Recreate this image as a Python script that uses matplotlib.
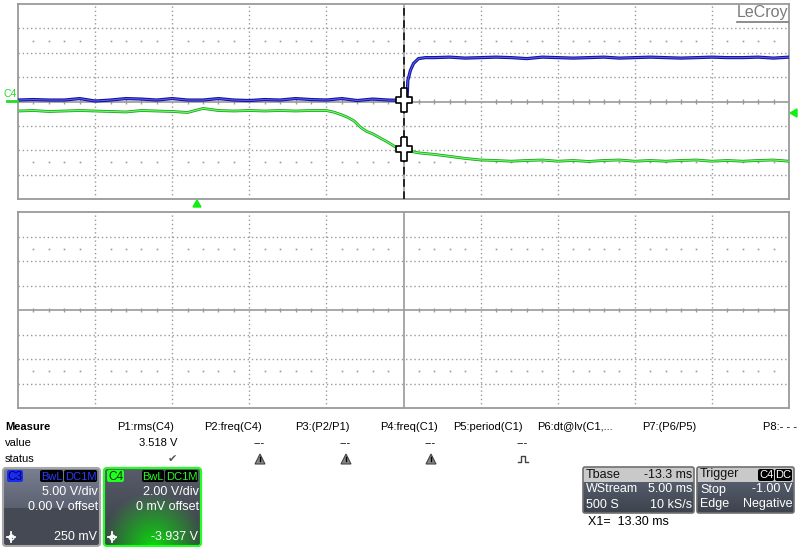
"""LeCroy scope screen: C3 (blue) step and C4 (green) fall around cursor X1."""

import numpy as np
import matplotlib
matplotlib.use('Agg')
import matplotlib.pyplot as plt
from matplotlib.patches import Rectangle, FancyBboxPatch, Polygon
from matplotlib.path import Path

W, H = 800, 547
plt.rcParams['font.family'] = ['Liberation Sans', 'DejaVu Sans']

# ---- values (time in ms relative to cursor X1, volts) ----
C3_VDIV = 5.0
C4_VDIV = 2.0

c3_t = list(range(-25, 0)) + [0, 0.23, 0.28, 0.45, 0.65, 0.97, 1.43] + list(range(2, 26))
c3_v = [0.3, 0.4, 0.3, 0.3, 0.6, 0.1, 0.3, 0.6, 0.5, 0.3, 0.6, 0.3, 0.3, 0.6, 0.3,
        0.2, 0.4, 0.3, 0.6, 0.4, 0.3, 0.6, 0.2, 0.5, 0.3,
        0.25, 0.3, 4.3, 6.4, 7.8, 8.8, 9.0,
        9.0, 9.1, 8.9, 9.0, 9.1, 9.0, 8.8, 9.1, 9.0, 8.9, 9.0, 9.1,
        8.9, 9.0, 9.1, 9.0, 8.9, 9.0, 9.1, 9.0, 9.0, 9.1, 8.9, 9.1]

c4_t = list(range(-25, -5)) + [-5.0, -4.5, -4.0, -3.6, -3.2, -2.8, -2.4, -2.0, -1.5, -1.0, -0.5, 0,
                               0.5, 1, 2, 3, 4, 5] + list(range(6, 26))
c4_v = [-0.78, -0.74, -0.82, -0.78, -0.74, -0.78, -0.82, -0.86, -0.74, -0.78,
        -0.82, -0.9, -0.57, -0.74, -0.78, -0.74, -0.78, -0.74, -0.78, -0.74,
        -0.74, -0.88, -1.1, -1.31, -1.6, -2.1, -2.45, -2.65, -3.0, -3.35, -3.75, -3.937,
        -4.1, -4.22, -4.34, -4.5, -4.67, -4.8,
        -4.84, -4.9, -4.84, -4.8, -4.9, -4.84, -4.92, -4.84, -4.8, -4.9,
        -4.84, -4.9, -4.84, -4.8, -4.9, -4.84, -4.9, -4.84, -4.8, -4.9]

cursor_t = 0.0
cursor_c3 = 0.25
cursor_c4 = -3.937

meas_names = ['P1:rms(C4)', 'P2:freq(C4)', 'P3:(P2/P1)', 'P4:freq(C1)',
              'P5:period(C1)', 'P6:dt@lv(C1,...', 'P7:(P6/P5)', 'P8:- - -']
meas_values = ['3.518 V', '---', '---', '---', '---', '', '', '']
meas_status = ['ok', 'warn', 'warn', 'warn', 'pulse', '', '', '']

GRID = '#9a9a9a'


def fig_axes(fig, x0, y0, x1, y1):
    return fig.add_axes([x0 / W, 1 - y1 / H, (x1 - x0) / W, (y1 - y0) / H])


def draw_grid(ax):
    ax.set_xlim(-25, 25)
    ax.set_ylim(-4, 4)
    ax.set_xticks([]); ax.set_yticks([])
    for sp in ax.spines.values():
        sp.set_color(GRID); sp.set_linewidth(1.3)
    for x in range(-20, 25, 5):
        if x == 0:
            ax.axvline(x, color=GRID, lw=1.2, zorder=1)
        else:
            ax.axvline(x, color=GRID, lw=1, ls=(0, (1, 2)), zorder=1)
    for y in range(-3, 4):
        if y == 0:
            ax.axhline(y, color=GRID, lw=1.2, zorder=1)
        else:
            ax.axhline(y, color=GRID, lw=1, ls=(0, (1, 2)), zorder=1)
    minor = [t for t in range(-24, 25) if t % 5]
    ax.vlines(minor, -0.09, 0.09, color=GRID, lw=1, zorder=1)
    for yy in (2.5, -2.5):
        ax.plot(minor, [yy] * len(minor), ls='none', marker='s', ms=1.2,
                mew=0, color=GRID, zorder=1)


fig = plt.figure(figsize=(W / 100, H / 100), dpi=100)

# upper grid with traces
ax = fig_axes(fig, 18, 4, 789, 199)
draw_grid(ax)
c3_div = np.array(c3_v) / C3_VDIV
c4_div = np.array(c4_v) / C4_VDIV
ax.plot(c3_t, c3_div, color='#121296', lw=2.3, zorder=3)
ax.plot(c3_t, c3_div, color='#5a5aff', lw=0.8, zorder=3)
ax.plot(c4_t, c4_div, color='#1c9a1c', lw=2.0, zorder=3)
ax.plot(c4_t, c4_div, color='#66ff66', lw=0.9, zorder=3)
ax.axvline(cursor_t, color='black', lw=1.1, ls=(0, (5, 3)), zorder=4)

cross = Path([(-2.7, 12), (2.7, 12), (2.7, 3), (8, 3), (8, -3), (2.7, -3), (2.7, -12),
              (-2.7, -12), (-2.7, -3), (-8, -3), (-8, 3), (-2.7, 3), (-2.7, 12)])
ax.plot([cursor_t, cursor_t], [cursor_c3 / C3_VDIV, cursor_c4 / C4_VDIV], ls='none',
        marker=cross, ms=17.3, mfc='white', mec='black', mew=1.2, zorder=5)

# lower (empty) grid
ax2 = fig_axes(fig, 18, 212, 789, 408)
draw_grid(ax2)

# overlay for the instrument UI
ov = fig.add_axes([0, 0, 1, 1])
ov.set_zorder(5)
ov.patch.set_alpha(0)
ov.axis('off')


def T(x, y, s, ha='left', size=8, color='black', **kw):
    ov.text(x, y, s, ha=ha, va='center', fontsize=size, color=color, **kw)


# LeCroy logo
T(788, 13, 'LeCroy', ha='right', size=11.5, color='#7a7a7a')
ov.plot([737, 788], [21.5, 21.5], color='#7a7a7a', lw=1.2)

# channel marker, trigger markers
T(4, 94, 'C4', size=7.5, color='#22dd22')
ov.plot([7, 17], [101, 101], color='#22dd22', lw=2)
ov.add_patch(Polygon([(193, 207), (201, 207), (197, 200)], color='#11ee11'))
ov.add_patch(Polygon([(797, 109), (797, 117), (790, 113)], color='#11ee11'))

# measurement table
T(5, 427, 'Measure', weight='bold')
T(5, 443, 'value')
T(5, 459, 'status')
name_x = [117, 204, 295, 380, 453, 537, 642, 763]
right_x = [178, 266, 352, 437, 529, 617, 705, 795]
for nx, rx, name, val, st in zip(name_x, right_x, meas_names, meas_values, meas_status):
    T(nx, 427, name)
    if val:
        T(rx - 1, 443, val, ha='right')
    ix = rx - 6
    if st == 'ok':
        T(ix, 459, '\u2714', ha='center', size=8, color='#555555')
    elif st == 'warn':
        ov.add_patch(Polygon([(ix - 5, 464), (ix + 5, 464), (ix, 454)],
                             fc='#888888', ec='#444444', lw=0.8))
        ov.plot([ix, ix], [457, 461], color='black', lw=1)
    elif st == 'pulse':
        ov.plot([ix - 5, ix - 2, ix - 2, ix + 2, ix + 2, ix + 5],
                [462, 462, 456, 456, 462, 462], color='#444444', lw=1)


def grad_img(x0, y0, x1, y1, top, bottom, glow=None):
    n = 60
    t = np.linspace(0, 1, n)[:, None, None]
    img = np.array(top)[None, None, :] * (1 - t) + np.array(bottom)[None, None, :] * t
    img = np.repeat(img, 40, axis=1)
    if glow is not None:
        yy, xx = np.mgrid[0:n, 0:40]
        r = np.sqrt(((xx - 20) / 22.0) ** 2 + ((yy - n) / (n * 0.7)) ** 2)
        w = np.clip(1 - r, 0, 1)[:, :, None]
        img = img * (1 - w) + np.array(glow)[None, None, :] * w
    ov.imshow(img, extent=(x0, x1, y1, y0), aspect='auto', zorder=1,
              interpolation='bilinear')


def badge(x0, x1, y0, y1, fc, text, tc, size=8):
    ov.add_patch(FancyBboxPatch((x0, y0), x1 - x0, y1 - y0,
                                boxstyle='round,pad=0,rounding_size=2', fc=fc, ec='none', zorder=3))
    T((x0 + x1) / 2, (y0 + y1) / 2 + 0.5, text, ha='center', size=size, color=tc, zorder=4)


def crosshair(x, y):
    ov.plot([x - 4, x + 4], [y, y], color='white', lw=1.3, zorder=4)
    ov.plot([x, x], [y - 5, y + 5], color='white', lw=1.3, zorder=4)
    ov.plot([x], [y], marker='o', ms=3.5, mfc='none', mec='white', mew=1, zorder=4)


# C3 box
grad_img(3, 468, 100, 508, (0.47, 0.5, 0.57), (0.36, 0.38, 0.44))
grad_img(3, 508, 100, 546, (0.27, 0.29, 0.33), (0.27, 0.29, 0.33))
ov.add_patch(FancyBboxPatch((3, 468), 97, 78, boxstyle='round,pad=0,rounding_size=3',
                            fc='none', ec='#a8a8a8', lw=1.5, zorder=3))
badge(7, 23, 470, 482, '#1a2cf0', 'C3', '#000060', size=8.5)
badge(40, 63, 470, 482, 'black', 'BwL', '#2a3cff')
badge(64, 97, 470, 482, 'black', 'DC1M', '#2a3cff')
T(98, 492, '5.00 V/div', ha='right', size=9, color='white', zorder=4)
T(98, 507, '0.00 V offset', ha='right', size=9, color='white', zorder=4)
T(97, 537, '250 mV', ha='right', size=9, color='white', zorder=4)
crosshair(11, 537)

# C4 box
grad_img(104, 468, 201, 546, (0.34, 0.36, 0.41), (0.22, 0.24, 0.27), glow=(0.05, 0.85, 0.05))
ov.add_patch(FancyBboxPatch((104, 468), 97, 78, boxstyle='round,pad=0,rounding_size=3',
                            fc='none', ec='#22ff22', lw=1.6, zorder=3))
badge(107, 124, 470, 482, '#22ff22', 'C4', '#003300', size=8.5)
badge(142, 164, 470, 482, 'black', 'BwL', '#22ff22')
badge(165, 198, 470, 482, 'black', 'DC1M', '#22ff22')
T(199, 492, '2.00 V/div', ha='right', size=9, color='white', zorder=4)
T(199, 507, '0 mV offset', ha='right', size=9, color='white', zorder=4)
T(198, 537, '-3.937 V', ha='right', size=9, color='white', zorder=4)
crosshair(112, 537)

# timebase / trigger boxes
for x0, x1, rows in [(583, 694, [('Tbase', '-13.3 ms'), ('WStream', '5.00 ms'), ('500 S', '10 kS/s')]),
                     (697, 794, [('Trigger', ''), ('Stop', '-1.00 V'), ('Edge', 'Negative')])]:
    ov.add_patch(Rectangle((x0, 467), x1 - x0, 15, fc='#c9c9c9', ec='none', zorder=1))
    grad_img(x0, 482, x1, 513, (0.33, 0.36, 0.42), (0.24, 0.26, 0.3))
    ov.add_patch(FancyBboxPatch((x0, 467), x1 - x0, 46, boxstyle='round,pad=0,rounding_size=2',
                                fc='none', ec='#707070', lw=1.2, zorder=3))
    for i, (lab, val) in enumerate(rows):
        yy = 474.5 + 15 * i
        col = '#111111' if i == 0 else 'white'
        T(x0 + 3, yy, lab, size=9, color=col, zorder=4)
        if val:
            T(x1 - 2, yy, val, ha='right', size=9, color=col, zorder=4)
badge(758, 774, 469, 481, 'black', 'C4', 'white')
badge(775, 792, 469, 481, 'black', 'DC', 'white')
T(588, 522, 'X1=  13.30 ms', size=9)

ov.set_xlim(0, W)
ov.set_ylim(H, 0)

fig.savefig('out.png', dpi=100)
